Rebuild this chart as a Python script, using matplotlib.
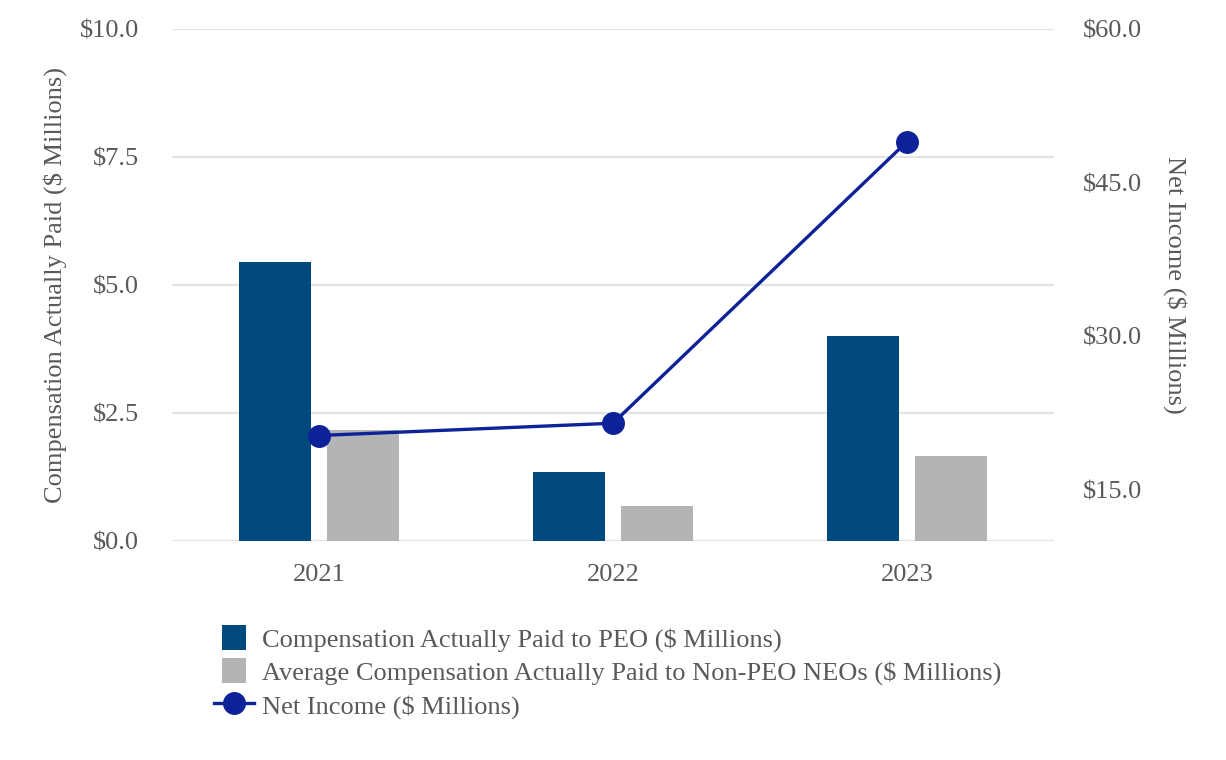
import matplotlib
matplotlib.use("Agg")
import matplotlib.pyplot as plt
import numpy as np
from matplotlib.lines import Line2D
from matplotlib.patches import Patch, Rectangle
from matplotlib.legend_handler import HandlerPatch

years = ["2021", "2022", "2023"]
peo_cap = [5.45, 1.35, 4.00]
neo_cap = [2.17, 0.68, 1.66]
net_income = [20.3, 21.5, 49.0]
left_ticks = [0.0, 2.5, 5.0, 7.5, 10.0]
right_ticks = [15.0, 30.0, 45.0, 60.0]

plt.rcParams['font.family'] = ['Liberation Serif', 'DejaVu Serif']
gray = '#595959'
fs = 19

fig = plt.figure(figsize=(12.26, 7.6), dpi=100)
ax = fig.add_axes([0.1403, 0.2882, 0.7194, 0.6736])
x = np.arange(len(years))
w = 0.245
ax.bar(x - 0.15, peo_cap, w, color='#00497D', zorder=2)
ax.bar(x + 0.15, neo_cap, w, color='#B4B4B4', zorder=2)
ax.set_xlim(-0.5, 2.5)
ax.set_ylim(0, 10)
ax.set_yticks(left_ticks)
ax.set_yticklabels([f"${v:.1f}" for v in left_ticks])
ax.set_xticks(x)
ax.set_xticklabels(years)
ax.grid(axis='y', color='#E3E3E3', linewidth=1.5, zorder=0)
for s in ax.spines.values():
    s.set_visible(False)
ax.tick_params(length=0, labelsize=fs, labelcolor=gray)
ax.tick_params(axis='y', pad=24)
ax.tick_params(axis='x', pad=16.5)
ax.set_ylabel("Compensation Actually Paid ($ Millions)", fontsize=fs, color=gray, labelpad=9)

ax2 = ax.twinx()
ax2.plot(x, net_income, color='#0D2299', linewidth=2.4, marker='o', markersize=15.5, zorder=3)
ax2.set_ylim(10, 60)
ax2.set_yticks(right_ticks)
ax2.set_yticklabels([f"${v:.1f}" for v in right_ticks])
for s in ax2.spines.values():
    s.set_visible(False)
ax2.tick_params(length=0, labelsize=fs, labelcolor=gray, pad=21)
ax2.set_ylabel("Net Income ($ Millions)", fontsize=fs, color=gray, rotation=270, labelpad=32)


class SquareHandler(HandlerPatch):
    def create_artists(self, legend, orig_handle, xdescent, ydescent, width, height, fontsize, trans):
        side_w = 0.6 * width
        side_h = 1.05 * height
        p = Rectangle((-xdescent + (width - side_w) / 2, -ydescent + (height - side_h) / 2),
                      side_w, side_h, facecolor=orig_handle.get_facecolor(), edgecolor='none',
                      transform=trans)
        return [p]


handles = [Patch(facecolor='#00497D'), Patch(facecolor='#B4B4B4'),
           Line2D([0], [0], color='#0D2299', linewidth=2.4, marker='o', markersize=15.5)]
labels = ["Compensation Actually Paid to PEO ($ Millions)",
          "Average Compensation Actually Paid to Non-PEO NEOs ($ Millions)",
          "Net Income ($ Millions)"]
leg = fig.legend(handles, labels, loc='upper left', bbox_to_anchor=(0.1746, 0.177),
                 frameon=False, fontsize=fs, handlelength=1.5, handleheight=1.0,
                 handletextpad=0.3, labelspacing=0.27, borderaxespad=0, borderpad=0,
                 handler_map={Patch: SquareHandler()})
for t in leg.get_texts():
    t.set_color(gray)

fig.savefig("out.png", dpi=100)
